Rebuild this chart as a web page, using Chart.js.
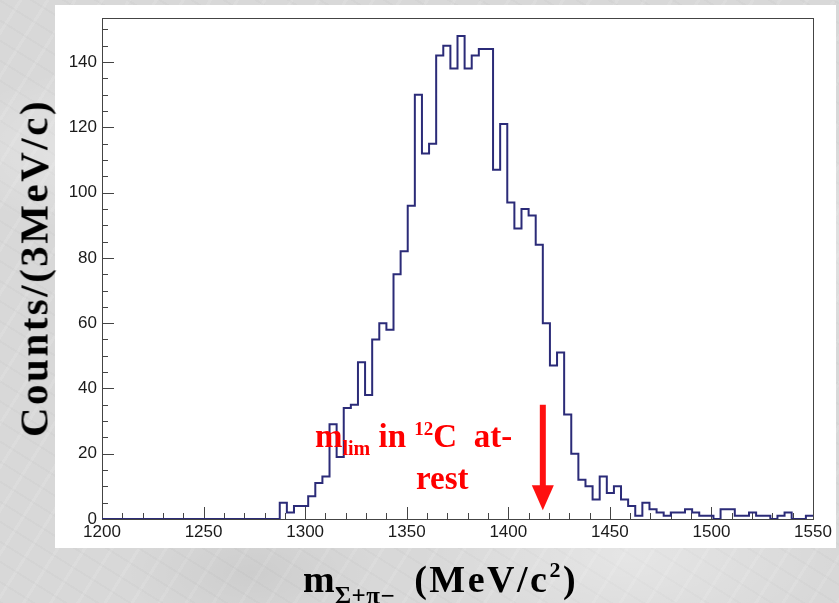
<!DOCTYPE html>
<html>
<head>
<meta charset="utf-8">
<script src="https://cdn.jsdelivr.net/npm/chart.js@4.4.1/dist/chart.umd.min.js"></script>
<style>
html,body{margin:0;padding:0;width:839px;height:603px;overflow:hidden;}
body{position:relative;
  background:
    radial-gradient(ellipse 260px 120px at 15% 25%, rgba(255,255,255,0.40), rgba(255,255,255,0) 70%),
    radial-gradient(ellipse 300px 140px at 75% 92%, rgba(255,255,255,0.35), rgba(255,255,255,0) 70%),
    radial-gradient(ellipse 200px 160px at 95% 40%, rgba(255,255,255,0.30), rgba(255,255,255,0) 70%),
    radial-gradient(ellipse 180px 90px at 30% 95%, rgba(0,0,0,0.05), rgba(0,0,0,0) 70%),
    repeating-linear-gradient(32deg, rgba(0,0,0,0.018) 0px, rgba(0,0,0,0.018) 2px, rgba(0,0,0,0) 2px, rgba(0,0,0,0) 17px),
    repeating-linear-gradient(-58deg, rgba(255,255,255,0.10) 0px, rgba(255,255,255,0.10) 3px, rgba(255,255,255,0) 3px, rgba(255,255,255,0) 23px),
    #d8d8d8;}
#panel{position:absolute;left:55px;top:5px;width:781px;height:543px;background:#ffffff;}
#c{position:absolute;left:0;top:0;}
.t{position:absolute;font-family:"Liberation Serif","Times New Roman",serif;font-weight:bold;white-space:nowrap;color:#000;}
#ytitle{left:34px;top:268px;font-size:41px;line-height:41px;letter-spacing:2.5px;transform:translate(-50%,-50%) rotate(-90deg);}
#xtitle{left:303px;top:560px;font-size:38px;line-height:38px;}
#xtitle .sub{position:relative;top:12px;font-size:25px;letter-spacing:0.5px;}
#xtitle .unit{letter-spacing:2.5px;}
#xtitle .sup{position:relative;top:-15px;font-size:22px;}
.red{color:#ff0000;}
#ann1{left:315px;top:420px;font-size:33px;line-height:33px;}
#ann1 .sub{position:relative;top:8px;font-size:20px;}
#ann1 .sup{position:relative;top:-12px;font-size:19px;}
#ann2{left:416px;top:462px;font-size:33px;line-height:33px;}
</style>
</head>
<body>
<div id="panel"></div>
<canvas id="c" width="839" height="603"></canvas>
<div id="ytitle" class="t">Counts/(3MeV/c)</div>
<div id="xtitle" class="t">m<span class="sub">Σ+π−</span>&nbsp;&nbsp;<span class="unit">(MeV/c<span class="sup">2</span>)</span></div>
<div id="ann1" class="t red">m<span class="sub">lim</span> in <span class="sup">12</span>C&nbsp; at-</div>
<div id="ann2" class="t red">rest</div>
<script>
// Histogram: 100 bins of 3.5 MeV from 1200 to 1550
const binStart = 1200;
const binWidth = 3.5;
const counts = [
  0,0,0,0,0,0,0,0,0,0,
  0,0,0,0,0,0,0,0,0,0,
  0,0,0,0,0,5,2,4,4,7,
  11,13,29,19,34,35,48,38,55,60,
  58,75,82,96,130,112,115,142,145,138,
  148,138,142,144,144,107,121,97,89,95,
  93,84,60,47,51,32,20,12,10,6,
  13,8,10,6,4,1,5,3,2,1,
  2,2,3,2,1,1,0,3,3,1,
  1,2,1,1,0,1,2,0,0,1
];
const xTickValues = [1200,1250,1300,1350,1400,1450,1500,1550];
const yTickValues = [0,20,40,60,80,100,120,140];
const xMinorStep = 10;
const yMinorStep = 5;
const xRange = [1200,1550];
const yRange = [0,153.5];
// annotation arrow (x position in MeV, y from/to in counts)
const arrowX = 1417;
const arrowFrom = 35;
const arrowTo = 2.7;

const histPoints = counts.map((c,i)=>({x: binStart + i*binWidth, y: c}));
histPoints.push({x: binStart + counts.length*binWidth, y: counts[counts.length-1]});

const framePlugin = {
  id:'frame',
  beforeDatasetsDraw(chart){
    const ctx = chart.ctx, a = chart.chartArea, xs = chart.scales.x, ys = chart.scales.y;
    ctx.save();
    ctx.strokeStyle = '#444';
    ctx.lineWidth = 1;
    ctx.strokeRect(Math.round(a.left)+0.5, Math.round(a.top)+0.5, Math.round(a.right-a.left), Math.round(a.bottom-a.top));
    ctx.beginPath();
    for(let v = xRange[0]; v <= xRange[1]; v += xMinorStep){
      const px = Math.round(xs.getPixelForValue(v))+0.5;
      const len = xTickValues.includes(v) ? 12 : 6;
      ctx.moveTo(px, a.bottom); ctx.lineTo(px, a.bottom - len);
    }
    for(let v = yRange[0]; v <= yRange[1]; v += yMinorStep){
      const py = Math.round(ys.getPixelForValue(v))+0.5;
      const len = yTickValues.includes(v) ? 12 : 6;
      ctx.moveTo(a.left, py); ctx.lineTo(a.left + len, py);
    }
    ctx.stroke();
    ctx.restore();
  },
  afterDatasetsDraw(chart){
    const ctx = chart.ctx, xs = chart.scales.x, ys = chart.scales.y;
    const px = xs.getPixelForValue(arrowX);
    const y0 = ys.getPixelForValue(arrowFrom);
    const tip = ys.getPixelForValue(arrowTo);
    const headLen = 25, headHalf = 11, shaftHalf = 3;
    ctx.save();
    ctx.fillStyle = '#ff1010';
    ctx.fillRect(px - shaftHalf, y0, shaftHalf*2, tip - headLen - y0 + 1);
    ctx.beginPath();
    ctx.moveTo(px - headHalf, tip - headLen);
    ctx.lineTo(px + headHalf, tip - headLen);
    ctx.lineTo(px, tip);
    ctx.closePath();
    ctx.fill();
    ctx.restore();
  }
};

new Chart(document.getElementById('c'), {
  type:'line',
  data:{datasets:[{
    data: histPoints,
    borderColor:'#2b2b78',
    borderWidth:2,
    pointRadius:0,
    fill:false,
    stepped:true,
    tension:0
  }]},
  options:{
    responsive:false,
    animation:false,
    devicePixelRatio:1,
    layout:{padding:{top:18,right:26,left:0,bottom:0}},
    plugins:{legend:{display:false},tooltip:{enabled:false},title:{display:false}},
    scales:{
      x:{
        type:'linear', min:xRange[0], max:xRange[1],
        afterBuildTicks(s){ s.ticks = xTickValues.map(v=>({value:v})); },
        afterFit(s){ s.height = 84; },
        ticks:{ callback:(v)=>String(v), font:{family:'"Liberation Sans", Arial, sans-serif', size:17}, color:'#1a1a1a', padding:3, maxRotation:0, autoSkip:false },
        grid:{ display:false, drawTicks:false },
        border:{ display:false }
      },
      y:{
        type:'linear', min:yRange[0], max:yRange[1],
        afterBuildTicks(s){ s.ticks = yTickValues.map(v=>({value:v})); },
        afterFit(s){ s.width = 102; },
        ticks:{ callback:(v)=>String(v), font:{family:'"Liberation Sans", Arial, sans-serif', size:17}, color:'#1a1a1a', padding:5, autoSkip:false },
        grid:{ display:false, drawTicks:false },
        border:{ display:false }
      }
    }
  },
  plugins:[framePlugin]
});
</script>
</body>
</html>
